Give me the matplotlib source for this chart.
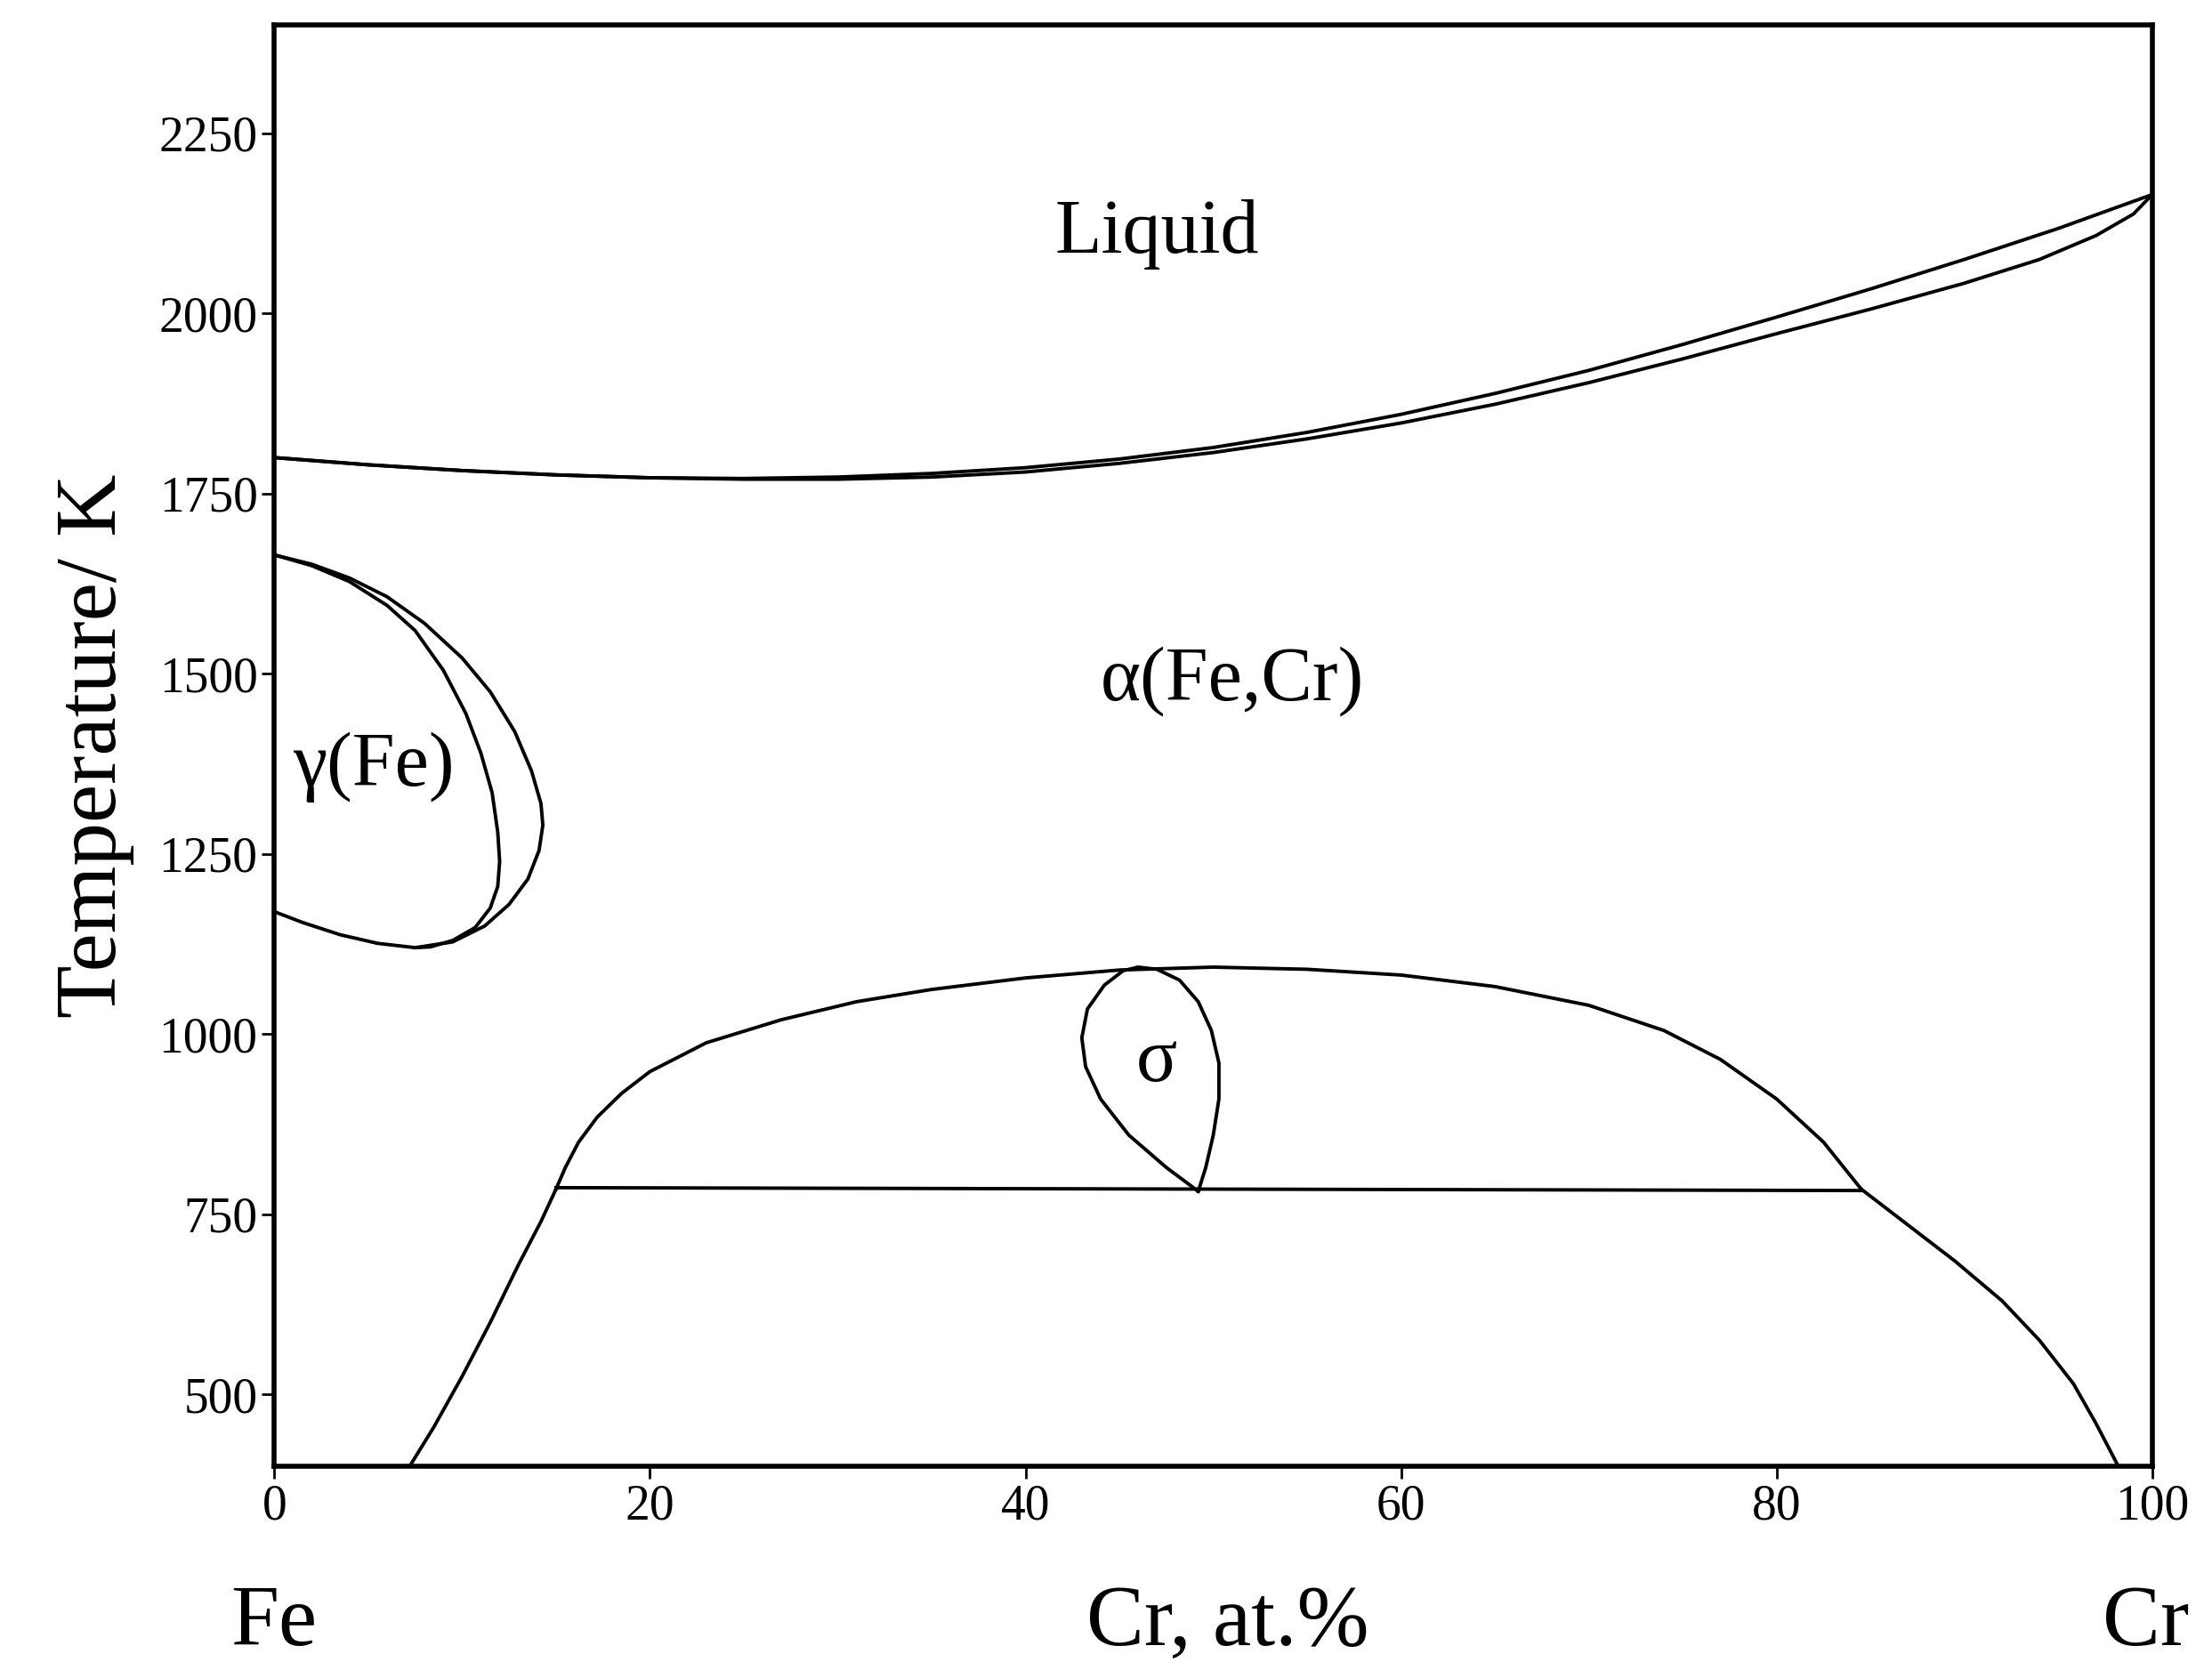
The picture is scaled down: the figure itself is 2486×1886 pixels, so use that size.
import matplotlib
matplotlib.use("Agg")
import matplotlib.pyplot as plt

plt.rcParams['font.family'] = ['Liberation Serif', 'DejaVu Serif']

liq_x = [0, 5, 10, 15, 20, 25, 30, 35, 40, 45, 50, 55, 60, 65, 70, 75, 80, 85, 90, 95, 100]
liq_T = [1800, 1790, 1782, 1776, 1772, 1771, 1773, 1778, 1786, 1798, 1814, 1835, 1860, 1889, 1921, 1957, 1995, 2034, 2075, 2118, 2165]
sol_x = [0, 5, 10, 15, 20, 25, 30, 35, 40, 45, 50, 55, 60, 65, 70, 75, 80, 85, 90, 94, 97, 99, 100]
sol_T = [1800, 1790, 1782, 1776, 1772, 1770, 1770, 1773, 1780, 1792, 1807, 1826, 1848, 1874, 1904, 1937, 1972, 2006, 2042, 2075, 2108, 2138, 2165]

gam_out_x = [0, 2, 4, 6, 8, 10, 11.5, 12.8, 13.7, 14.2, 14.3, 14.1, 13.5, 12.5, 11.2, 9.5, 7.5, 5.5, 3.5, 1.5, 0]
gam_out_T = [1665, 1652, 1633, 1607, 1570, 1522, 1475, 1420, 1365, 1320, 1290, 1255, 1215, 1180, 1150, 1128, 1120, 1126, 1138, 1155, 1170]
gam_in_x = [0, 2, 4, 6, 7.5, 9, 10.2, 11, 11.6, 11.9, 12, 11.9, 11.5, 10.7, 9.5, 8.3, 7.5]
gam_in_T = [1665, 1650, 1628, 1595, 1560, 1505, 1445, 1390, 1335, 1280, 1240, 1205, 1175, 1148, 1130, 1121, 1120]

dome_x = [15, 15.5, 16.2, 17.2, 18.5, 20, 23, 27, 31, 35, 40, 45, 50, 55, 60, 65, 70, 74, 77, 80, 82.5, 84.5]
dome_T = [785, 815, 850, 885, 918, 948, 988, 1020, 1045, 1062, 1078, 1089, 1093, 1090, 1082, 1066, 1040, 1005, 965, 910, 850, 785]
eut_x = [15, 84.5]
eut_T = [787, 783]
sig_x = [49.2, 47.5, 45.5, 44, 43.2, 43, 43.3, 44.2, 45.2, 46, 47, 48.2, 49.2, 49.9, 50.3, 50.3, 50, 49.6, 49.2]
sig_T = [782, 815, 860, 910, 955, 995, 1035, 1068, 1088, 1093, 1090, 1075, 1045, 1005, 960, 910, 860, 815, 782]
misL_x = [7.2, 8.5, 10, 11.5, 13, 14.2, 15]
misL_T = [400, 455, 525, 600, 680, 740, 785]
misR_x = [84.5, 87, 89.5, 92, 94, 95.8, 97, 98.2]
misR_T = [785, 735, 685, 630, 575, 515, 460, 400]

yticks = [500, 750, 1000, 1250, 1500, 1750, 2000, 2250]
xticks = [0, 20, 40, 60, 80, 100]

fig = plt.figure(figsize=(24.86, 18.86), dpi=100)
ax = fig.add_axes([0.124, 0.126, 0.849, 0.859])
lw = 2.8
for xs, ts in [(liq_x, liq_T), (sol_x, sol_T), (gam_out_x, gam_out_T), (gam_in_x, gam_in_T),
               (dome_x, dome_T), (eut_x, eut_T), (sig_x, sig_T), (misL_x, misL_T), (misR_x, misR_T)]:
    ax.plot(xs, ts, color='black', lw=lw, solid_joinstyle='round')

ax.set_xlim(0, 100)
ax.set_ylim(400, 2400)
ax.set_xticks(xticks)
ax.set_yticks(yticks)
ax.tick_params(axis='both', labelsize=40, length=10, width=2, direction='out')
for s in ax.spines.values():
    s.set_linewidth(4)

ax.text(47, 2110, 'Liquid', fontsize=62, ha='center', va='center')
ax.text(51, 1490, 'α(Fe,Cr)', fontsize=62, ha='center', va='center')
ax.text(5.3, 1370, 'γ(Fe)', fontsize=62, ha='center', va='center')
ax.text(47, 960, 'σ', fontsize=62, ha='center', va='center')

ax.set_ylabel('Temperature/ K', fontsize=70, labelpad=20)
fig.text(0.124, 0.032, 'Fe', fontsize=70, ha='center', va='center')
fig.text(0.97, 0.032, 'Cr', fontsize=70, ha='center', va='center')
fig.text(0.555, 0.032, 'Cr, at.%', fontsize=70, ha='center', va='center')

fig.savefig('out.png', dpi=100, facecolor='white')
